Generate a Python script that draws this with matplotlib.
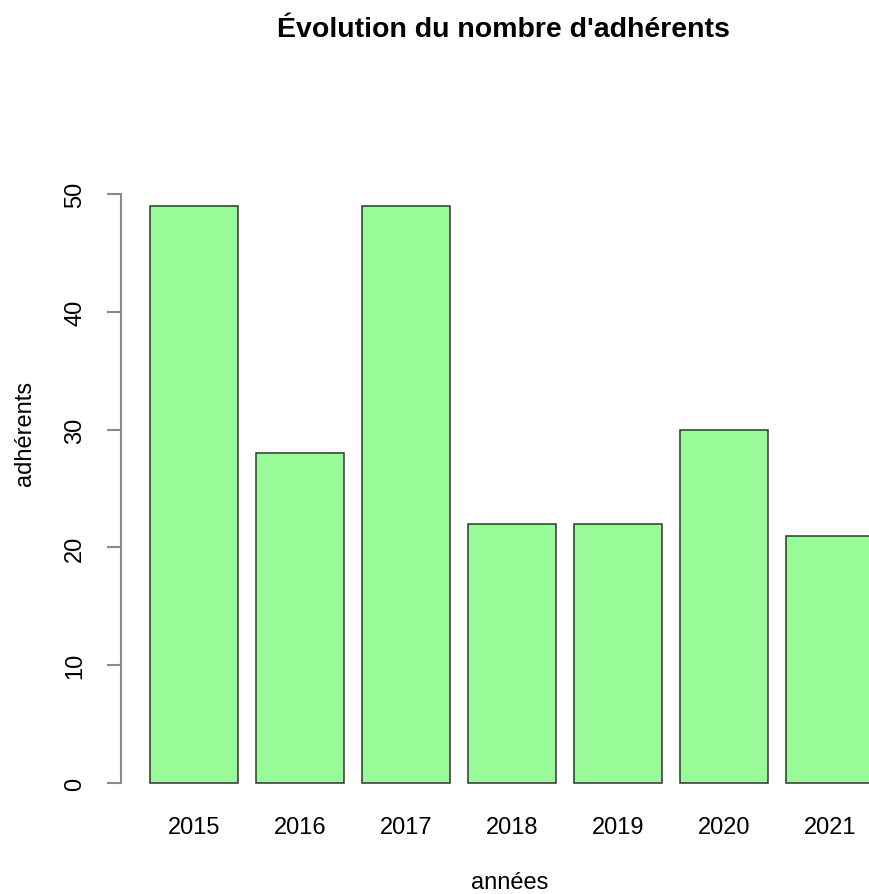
import matplotlib
matplotlib.use('Agg')
import matplotlib.pyplot as plt

plt.rcParams['font.family'] = ['Liberation Sans', 'DejaVu Sans']

# data
annees = ['2015', '2016', '2017', '2018', '2019', '2020', '2021']
adherents = [49, 28, 49, 22, 22, 30, 21]

W, H = 869, 895
fig = plt.figure(figsize=(W / 100, H / 100), dpi=100)

# plot region in pixels (R barplot look)
left_px, right_px = 121, 869
top_px, bottom_px = 195, 784
ax = fig.add_axes([left_px / W, 1 - bottom_px / H,
                   (right_px - left_px) / W, (bottom_px - top_px) / H])

# space=0.2, width=1 -> centers every 1.2 units; scale to unit spacing
pos = list(range(len(annees)))
ax.bar(pos, adherents, width=1 / 1.2, color='#98FB98',
       edgecolor='#333333', linewidth=1.1, clip_on=False)

# x range: bar centre of 2015 at 194 px, 106 px per bar step
step = 106.0
ax.set_xlim((left_px - 194) / step, (right_px - 194) / step)
ax.set_ylim(0, 50)

for s in ['top', 'right', 'bottom']:
    ax.spines[s].set_visible(False)
ax.spines['left'].set_color('#8a8a8a')
ax.spines['left'].set_linewidth(1.5)

ax.set_yticks([0, 10, 20, 30, 40, 50])
ax.tick_params(axis='y', direction='out', length=10, width=1.5,
               color='#8a8a8a', labelsize=17, pad=15, labelrotation=90)
for lab in ax.get_yticklabels():
    lab.set_va('center')

ax.set_xticks(pos)
ax.set_xticklabels(annees)
ax.tick_params(axis='x', length=0, labelsize=17, pad=24)

fig.text(503 / W, 1 - 30 / H, "Évolution du nombre d'adhérents",
         ha='center', va='center', fontsize=20.5, fontweight='bold')
fig.text(510 / W, 1 - 883 / H, 'années', ha='center', va='center', fontsize=17)
fig.text(25 / W, 1 - 433 / H, 'adhérents', ha='center', va='center',
         fontsize=17, rotation=90)

fig.savefig('out.png', dpi=100)
